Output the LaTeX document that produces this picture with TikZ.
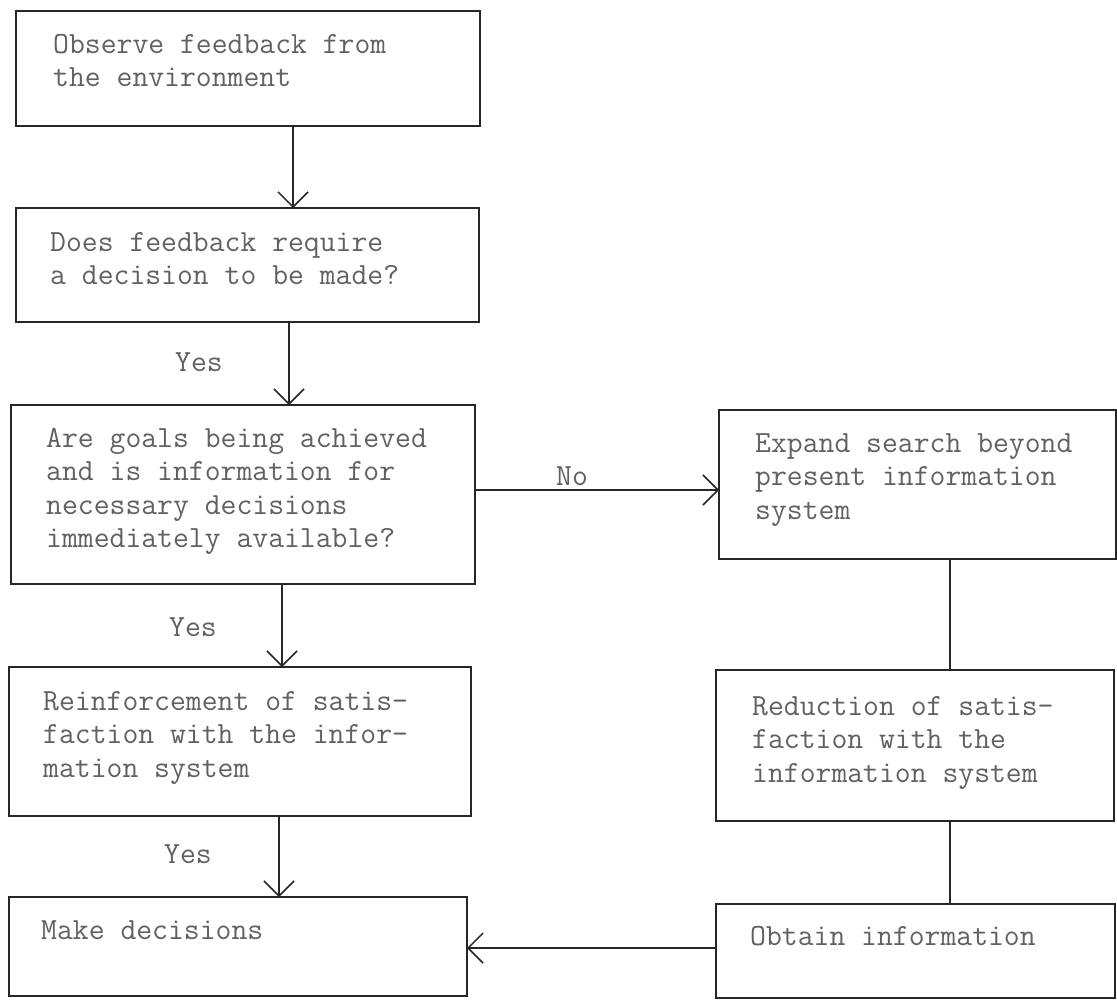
\documentclass[tikz,border=0pt]{standalone}
\usepackage{fontspec}
\usetikzlibrary{arrows.meta}
\tikzset{
  box/.style={draw=black!85, line width=1.7pt, anchor=north west, inner sep=0pt, outer sep=0pt},
  txt/.style={anchor=base west, inner sep=0pt, text=black!62, font=\ttfamily\fontsize{30.8}{33.5}\selectfont},
  lbl/.style={inner sep=0pt, text=black!62, font=\ttfamily\fontsize{30.8}{33.5}\selectfont},
  arr/.style={draw=black!85, line width=1.5pt, -{Straight Barb[length=15pt,width=30pt]}},
  link/.style={draw=black!85, line width=1.5pt}
}
\begin{document}
\begin{tikzpicture}[x=1pt,y=-1pt]
\useasboundingbox (0,0) rectangle (1117,1001);
\fill[white] (0,0) rectangle (1117,1001);
% boxes
\node[box, minimum width=464pt, minimum height=115pt] (b1) at (16,11) {};
\node[box, minimum width=463pt, minimum height=114pt] (b2) at (16,208) {};
\node[box, minimum width=464pt, minimum height=179pt] (b3) at (11,405) {};
\node[box, minimum width=462pt, minimum height=149pt] (b4) at (9,667) {};
\node[box, minimum width=458pt, minimum height=99pt] (b5) at (9,897) {};
\node[box, minimum width=397pt, minimum height=149pt] (b6) at (719,410) {};
\node[box, minimum width=398pt, minimum height=151pt] (b7) at (716,670) {};
\node[box, minimum width=399pt, minimum height=94pt] (b8) at (716,904) {};
% texts
\node[txt] (t1) at ([xshift=37pt,yshift=-42pt]b1.north west) {\vtop{\hbox{Observe feedback from}\hbox{the environment}}};
\node[txt] (t2) at ([xshift=34pt,yshift=-43pt]b2.north west) {\vtop{\hbox{Does feedback require}\hbox{a decision to be made?}}};
\node[txt] (t3) at ([xshift=35pt,yshift=-42pt]b3.north west) {\vtop{\hbox{Are goals being achieved}\hbox{and is information for}\hbox{necessary decisions}\hbox{immediately available?}}};
\node[txt] (t4) at ([xshift=34pt,yshift=-43pt]b4.north west) {\vtop{\hbox{Reinforcement of satis-}\hbox{faction with the infor-}\hbox{mation system}}};
\node[txt] (t5) at ([xshift=32pt,yshift=-42pt]b5.north west) {Make decisions};
\node[txt] (t6) at ([xshift=36pt,yshift=-42pt]b6.north west) {\vtop{\hbox{Expand search beyond}\hbox{present information}\hbox{system}}};
\node[txt] (t7) at ([xshift=36pt,yshift=-45pt]b7.north west) {\vtop{\hbox{Reduction of satis-}\hbox{faction with the}\hbox{information system}}};
\node[txt] (t8) at ([xshift=34pt,yshift=-41pt]b8.north west) {Obtain information};
% connector guide coordinates
\coordinate (a1) at (293,0);
\coordinate (a2) at (289,0);
\coordinate (a3) at (282,0);
\coordinate (a4) at (279,0);
\coordinate (rx) at (950,0);
\coordinate (noy) at (0,490);
\coordinate (mdy) at (0,948);
% connectors
\draw[arr] (b1.south -| a1) -- (b2.north -| a1);
\draw[arr] (b2.south -| a2) -- (b3.north -| a2);
\draw[arr] (b3.south -| a3) -- (b4.north -| a3);
\draw[arr] (b4.south -| a4) -- (b5.north -| a4);
\draw[arr] (b3.east |- noy) -- (b6.west |- noy);
\draw[link] (b6.south -| rx) -- (b7.north -| rx);
\draw[link] (b7.south -| rx) -- (b8.north -| rx);
\draw[arr] (b8.west |- mdy) -- (b5.east |- mdy);
% labels
\node[lbl, anchor=base] (y1) at (199,371) {Yes};
\node[lbl, anchor=base] (y2) at (193,636) {Yes};
\node[lbl, anchor=base] (y3) at (188,863) {Yes};
\node[lbl, anchor=base west] (no) at (556,485) {No};
\end{tikzpicture}
\end{document}
